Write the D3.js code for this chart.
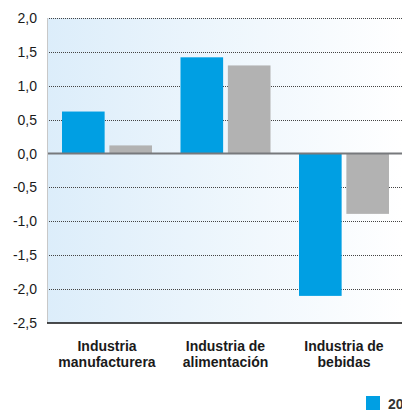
<!DOCTYPE html>
<html>
<head>
<meta charset="utf-8">
<script src="https://cdn.jsdelivr.net/npm/d3@7"></script>
<style>
  html, body { margin: 0; padding: 0; background: #fff; }
  svg { display: block; font-family: "Liberation Sans", Arial, sans-serif; }
</style>
</head>
<body>
<div id="chart"></div>
<script>
const categories = [["Industria", "manufacturera"], ["Industria de", "alimentación"], ["Industria de", "bebidas"]];
const seriesA = [0.62, 1.42, -2.10];
const seriesB = [0.12, 1.30, -0.89];
const yTicks = [2.0, 1.5, 1.0, 0.5, 0.0, -0.5, -1.0, -1.5, -2.0, -2.5];
const legendLabels = ["2011", "2010"];

const width = 402;
const height = 410;
const margin = { top: 18, right: 0, bottom: 87, left: 47 };

const svg = d3.select("#chart")
  .append("svg")
  .attr("width", width)
  .attr("height", height);

const defs = svg.append("defs");
const grad = defs.append("linearGradient").attr("id", "bg").attr("x1", "0").attr("x2", "1").attr("y1", "0").attr("y2", "0");
grad.append("stop").attr("offset", "0%").attr("stop-color", "#dcedfa");
grad.append("stop").attr("offset", "100%").attr("stop-color", "#ffffff");

const y = d3.scaleLinear()
  .domain([-2.5, 2.0])
  .range([height - margin.bottom, margin.top]);

const x0 = d3.scaleBand()
  .domain(d3.range(categories.length))
  .range([margin.left + 15, margin.left + 15 + 118.5 * 3])
  .paddingInner(0)
  .paddingOuter(0);

const x1 = d3.scaleBand()
  .domain([0, 1])
  .range([0, 90])
  .paddingInner(0.1);

// plot background
svg.append("rect")
  .attr("x", margin.left)
  .attr("y", y(2.0))
  .attr("width", width - margin.left)
  .attr("height", y(-2.5) - y(2.0))
  .attr("fill", "url(#bg)");

// dotted grid
svg.append("g")
  .selectAll("line")
  .data(yTicks.filter(d => d !== 0 && d !== -2.5))
  .enter()
  .append("line")
  .attr("x1", margin.left)
  .attr("x2", width)
  .attr("y1", d => Math.round(y(d)) + 0.5)
  .attr("y2", d => Math.round(y(d)) + 0.5)
  .attr("stroke", "#444")
  .attr("stroke-width", 1)
  .attr("stroke-dasharray", "1,1");

// left axis line
svg.append("line")
  .attr("x1", margin.left + 0.5)
  .attr("x2", margin.left + 0.5)
  .attr("y1", y(2.0))
  .attr("y2", y(-2.5))
  .attr("stroke", "#c8c8c8")
  .attr("stroke-width", 1);

// y tick labels
const yAxis = d3.axisLeft(y)
  .tickValues(yTicks)
  .tickSize(0)
  .tickPadding(10)
  .tickFormat(d => d3.format(".1f")(d).replace(".", ",").replace("−", "-"));

const yg = svg.append("g")
  .attr("transform", `translate(${margin.left},0)`)
  .call(yAxis);
yg.select(".domain").remove();
yg.selectAll("text")
  .attr("font-size", 14)
  .attr("fill", "#1a1a1a")
  .attr("font-family", "Liberation Sans, Arial, sans-serif");

// bars
const groups = svg.append("g")
  .selectAll("g")
  .data(categories.map((c, i) => [seriesA[i], seriesB[i]]))
  .enter()
  .append("g")
  .attr("transform", (d, i) => `translate(${x0(i)},0)`);

groups.selectAll("rect")
  .data(d => d)
  .enter()
  .append("rect")
  .attr("x", (d, j) => x1(j))
  .attr("width", x1.bandwidth())
  .attr("y", d => y(Math.max(0, d)))
  .attr("height", d => Math.abs(y(d) - y(0)))
  .attr("fill", (d, j) => j === 0 ? "#009fe3" : "#b2b2b2");

// zero line
svg.append("line")
  .attr("x1", margin.left + 1)
  .attr("x2", width)
  .attr("y1", y(0))
  .attr("y2", y(0))
  .attr("stroke", "#77797c")
  .attr("stroke-width", 2);

// bottom axis line
svg.append("line")
  .attr("x1", margin.left)
  .attr("x2", width)
  .attr("y1", y(-2.5))
  .attr("y2", y(-2.5))
  .attr("stroke", "#111")
  .attr("stroke-width", 1.5);

// category labels
const labels = svg.append("g")
  .selectAll("text")
  .data(categories)
  .enter()
  .append("text")
  .attr("x", (d, i) => x0(i) + 45)
  .attr("y", y(-2.5) + 28)
  .attr("text-anchor", "middle")
  .attr("font-size", 14)
  .attr("font-weight", "bold")
  .attr("fill", "#1a1a1a");

labels.selectAll("tspan")
  .data(d => d)
  .enter()
  .append("tspan")
  .attr("x", function () { return d3.select(this.parentNode).attr("x"); })
  .attr("dy", (d, i) => i === 0 ? 0 : 16)
  .text(d => d);

// legend
const legend = svg.append("g").attr("transform", "translate(366,396)");
legend.append("rect")
  .attr("width", 14)
  .attr("height", 14)
  .attr("fill", "#009fe3");
legend.append("text")
  .attr("x", 22)
  .attr("y", 13)
  .attr("font-size", 14)
  .attr("font-weight", "bold")
  .attr("fill", "#333")
  .text(legendLabels[0]);
</script>
</body>
</html>
